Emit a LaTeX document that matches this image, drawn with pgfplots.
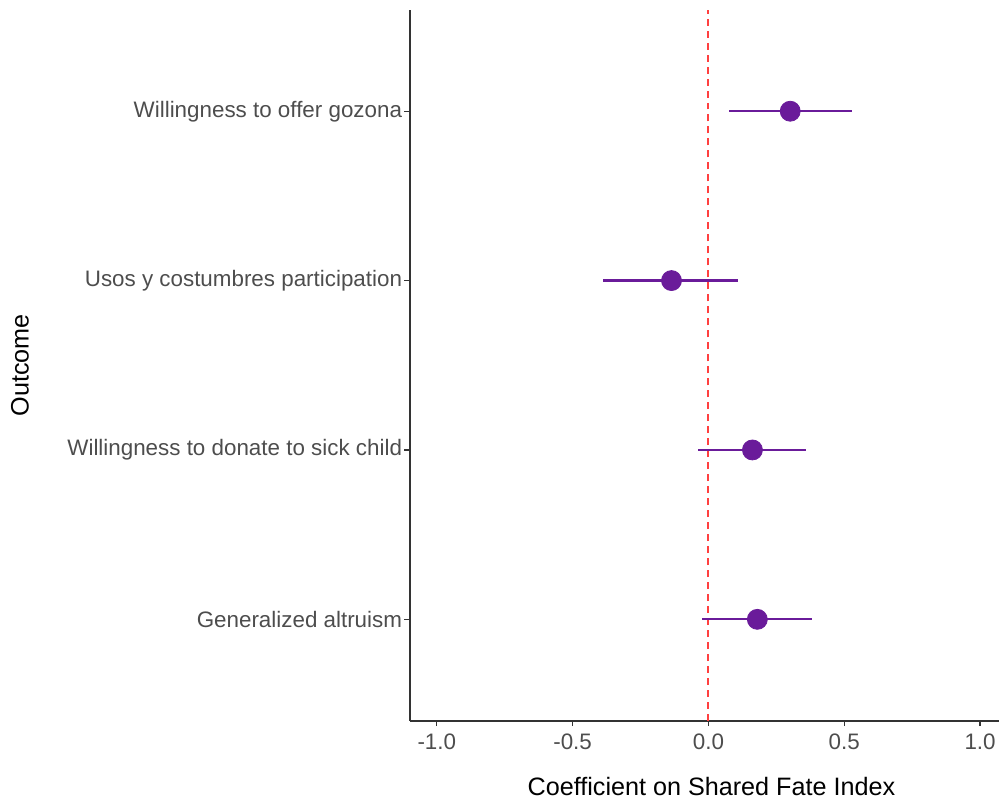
\documentclass[border=0pt]{standalone}
\usepackage{pgfplots}
\pgfplotsset{compat=1.18}
\usepackage{pgfplotstable}
\usepackage{fontspec}
\setmainfont{Liberation Sans}
\definecolor{purp}{HTML}{6A1B9A}
\definecolor{ticklab}{HTML}{4D4D4D}
\definecolor{axcol}{HTML}{333333}
\definecolor{refred}{HTML}{FF4040}
\pgfplotstableread{
y x em ep
1 0.180 0.202 0.202
2 0.162 0.199 0.198
3 -0.136 0.254 0.246
4 0.301 0.227 0.228
}\coefdata
\begin{document}
\begin{tikzpicture}
\path (0,0) rectangle (500pt,400pt);
\begin{axis}[
  at={(205pt,39.2pt)}, anchor=south west,
  scale only axis, width=295pt, height=356pt,
  xmin=-1.1, xmax=1.07, ymin=0.4, ymax=4.6,
  axis x line*=bottom, axis y line*=left,
  axis line style={draw=axcol, line width=0.9pt, -},
  tick align=outside, major tick length=2.6pt,
  tick style={draw=axcol, line width=0.7pt},
  xtick={-1,-0.5,0,0.5,1},
  xticklabels={-1.0,-0.5,0.0,0.5,1.0},
  ytick={1,2,3,4},
  yticklabels={Generalized altruism,Willingness to donate to sick child,Usos y costumbres participation,Willingness to offer gozona},
  ticklabel style={font=\fontsize{11.2}{13}\selectfont, text=ticklab},
  yticklabel style={inner sep=1pt},
  xticklabel style={inner sep=1pt, yshift=-2.5pt},
  xlabel={Coefficient on Shared Fate Index},
  every axis x label/.style={at={(axis description cs:0.512,0)}, anchor=center, yshift=-33pt, font=\fontsize{12.6}{15}\selectfont, text=black},
  ylabel={Outcome},
  every axis y label/.style={at={(axis description cs:-0.661,0.5)}, rotate=90, anchor=center, font=\fontsize{12.6}{15}\selectfont, text=black},
  clip=false,
]
\addplot[refred, dash pattern=on 3.5pt off 2.5pt, line width=1pt] coordinates {(0,0.4) (0,4.6)};
\addplot[only marks, mark=*, mark size=5pt, color=purp, mark options={fill=purp, draw=purp},
  error bars/.cd, x dir=both, x explicit, error mark=none,
  error bar style={line width=1.1pt, color=purp}]
  table[x=x, y=y, x error minus=em, x error plus=ep] {\coefdata};
\end{axis}
\end{tikzpicture}
\end{document}
